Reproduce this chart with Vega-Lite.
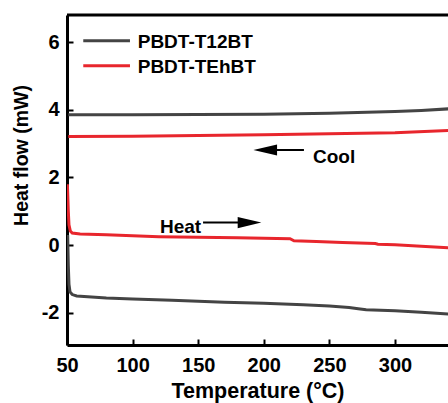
{
  "$schema": "https://vega.github.io/schema/vega-lite/v6.json",
  "autosize": "none",
  "width": 381,
  "height": 330,
  "padding": {"left": 67, "top": 15, "right": 0, "bottom": 58},
  "config": {
    "font": "Liberation Sans",
    "view": {"stroke": null},
    "axis": {
      "grid": false,
      "domainColor": "black",
      "domainWidth": 3,
      "tickColor": "black",
      "tickWidth": 2,
      "labelColor": "black",
      "labelFont": "Liberation Sans",
      "labelFontWeight": "bold",
      "labelFontSize": 20,
      "titleFont": "Liberation Sans",
      "titleFontWeight": "bold",
      "titleFontSize": 21,
      "titleColor": "black"
    }
  },
  "datasets": {
    "curves": [
      {"s": "PBDT-T12BT", "p": "cool", "T": 51, "H": 3.85},
      {"s": "PBDT-T12BT", "p": "cool", "T": 100, "H": 3.85},
      {"s": "PBDT-T12BT", "p": "cool", "T": 150, "H": 3.86},
      {"s": "PBDT-T12BT", "p": "cool", "T": 200, "H": 3.87},
      {"s": "PBDT-T12BT", "p": "cool", "T": 250, "H": 3.9},
      {"s": "PBDT-T12BT", "p": "cool", "T": 300, "H": 3.95},
      {"s": "PBDT-T12BT", "p": "cool", "T": 320, "H": 3.98},
      {"s": "PBDT-T12BT", "p": "cool", "T": 342, "H": 4.03},
      {"s": "PBDT-TEhBT", "p": "cool", "T": 51, "H": 3.21},
      {"s": "PBDT-TEhBT", "p": "cool", "T": 100, "H": 3.22},
      {"s": "PBDT-TEhBT", "p": "cool", "T": 150, "H": 3.24},
      {"s": "PBDT-TEhBT", "p": "cool", "T": 200, "H": 3.26},
      {"s": "PBDT-TEhBT", "p": "cool", "T": 250, "H": 3.29},
      {"s": "PBDT-TEhBT", "p": "cool", "T": 300, "H": 3.32},
      {"s": "PBDT-TEhBT", "p": "cool", "T": 342, "H": 3.39},
      {"s": "PBDT-T12BT", "p": "heat", "T": 50.5, "H": 0.3},
      {"s": "PBDT-T12BT", "p": "heat", "T": 51, "H": -0.6},
      {"s": "PBDT-T12BT", "p": "heat", "T": 51.5, "H": -1.15},
      {"s": "PBDT-T12BT", "p": "heat", "T": 52.3, "H": -1.38},
      {"s": "PBDT-T12BT", "p": "heat", "T": 54, "H": -1.46},
      {"s": "PBDT-T12BT", "p": "heat", "T": 57.4, "H": -1.5},
      {"s": "PBDT-T12BT", "p": "heat", "T": 80, "H": -1.56},
      {"s": "PBDT-T12BT", "p": "heat", "T": 100, "H": -1.59},
      {"s": "PBDT-T12BT", "p": "heat", "T": 130, "H": -1.63},
      {"s": "PBDT-T12BT", "p": "heat", "T": 170, "H": -1.69},
      {"s": "PBDT-T12BT", "p": "heat", "T": 200, "H": -1.72},
      {"s": "PBDT-T12BT", "p": "heat", "T": 230, "H": -1.76},
      {"s": "PBDT-T12BT", "p": "heat", "T": 250, "H": -1.8},
      {"s": "PBDT-T12BT", "p": "heat", "T": 265, "H": -1.84},
      {"s": "PBDT-T12BT", "p": "heat", "T": 272, "H": -1.88},
      {"s": "PBDT-T12BT", "p": "heat", "T": 278, "H": -1.91},
      {"s": "PBDT-T12BT", "p": "heat", "T": 300, "H": -1.94},
      {"s": "PBDT-T12BT", "p": "heat", "T": 320, "H": -1.98},
      {"s": "PBDT-T12BT", "p": "heat", "T": 342, "H": -2.04},
      {"s": "PBDT-TEhBT", "p": "heat", "T": 50.3, "H": 1.8},
      {"s": "PBDT-TEhBT", "p": "heat", "T": 51, "H": 1.0},
      {"s": "PBDT-TEhBT", "p": "heat", "T": 51.5, "H": 0.6},
      {"s": "PBDT-TEhBT", "p": "heat", "T": 52.5, "H": 0.42},
      {"s": "PBDT-TEhBT", "p": "heat", "T": 54, "H": 0.36},
      {"s": "PBDT-TEhBT", "p": "heat", "T": 60, "H": 0.33},
      {"s": "PBDT-TEhBT", "p": "heat", "T": 80, "H": 0.31},
      {"s": "PBDT-TEhBT", "p": "heat", "T": 120, "H": 0.25},
      {"s": "PBDT-TEhBT", "p": "heat", "T": 150, "H": 0.23},
      {"s": "PBDT-TEhBT", "p": "heat", "T": 180, "H": 0.22},
      {"s": "PBDT-TEhBT", "p": "heat", "T": 210, "H": 0.2},
      {"s": "PBDT-TEhBT", "p": "heat", "T": 220, "H": 0.19},
      {"s": "PBDT-TEhBT", "p": "heat", "T": 223, "H": 0.13},
      {"s": "PBDT-TEhBT", "p": "heat", "T": 240, "H": 0.11},
      {"s": "PBDT-TEhBT", "p": "heat", "T": 260, "H": 0.08},
      {"s": "PBDT-TEhBT", "p": "heat", "T": 285, "H": 0.05},
      {"s": "PBDT-TEhBT", "p": "heat", "T": 287, "H": 0.03},
      {"s": "PBDT-TEhBT", "p": "heat", "T": 300, "H": 0.01},
      {"s": "PBDT-TEhBT", "p": "heat", "T": 320, "H": -0.03},
      {"s": "PBDT-TEhBT", "p": "heat", "T": 342, "H": -0.08}
    ]
  },
  "layer": [
    {
      "data": {"name": "curves"},
      "mark": {"type": "line", "strokeWidth": 3, "clip": true},
      "encoding": {
        "x": {
          "field": "T", "type": "quantitative",
          "scale": {"domain": [50, 340.4], "nice": false, "zero": false},
          "axis": {
            "title": "Temperature (°C)",
            "titleFontSize": 21.5,
            "values": [50, 75, 100, 125, 150, 175, 200, 225, 250, 275, 300, 325],
            "labelExpr": "datum.value % 50 == 0 ? datum.label : ''",
            "tickSize": {"condition": {"test": "datum.value % 50 == 0", "value": -6}, "value": -3},
            "labelPadding": 16,
            "titlePadding": 5,
            "labelFlush": false
          }
        },
        "y": {
          "field": "H", "type": "quantitative",
          "scale": {"domain": [-2.95, 6.8], "nice": false, "zero": false},
          "axis": {
            "title": "Heat flow (mW)",
            "titleFontSize": 19.5,
            "titleY": 140,
            "values": [-2, 0, 2, 4, 6],
            "labelExpr": "'' + datum.value",
            "tickSize": -6,
            "labelPadding": 14,
            "titlePadding": 10
          }
        },
        "color": {
          "field": "s", "type": "nominal",
          "scale": {"domain": ["PBDT-T12BT", "PBDT-TEhBT"], "range": ["#444444", "#e8262d"]},
          "legend": null
        },
        "detail": {"field": "p"}
      }
    },
    {
      "data": {"values": [{"T": 50, "T2": 340.4, "H": 6.8}]},
      "mark": {"type": "rule", "strokeWidth": 3, "color": "black"},
      "encoding": {
        "x": {"field": "T", "type": "quantitative"},
        "x2": {"field": "T2"},
        "y": {"field": "H", "type": "quantitative"}
      }
    },
    {
      "data": {"values": [
        {"s": "PBDT-T12BT", "T": 62.4, "T2": 98, "H": 6.04},
        {"s": "PBDT-TEhBT", "T": 62.4, "T2": 98, "H": 5.3}
      ]},
      "mark": {"type": "rule", "strokeWidth": 3},
      "encoding": {
        "x": {"field": "T", "type": "quantitative"},
        "x2": {"field": "T2"},
        "y": {"field": "H", "type": "quantitative"},
        "color": {"field": "s", "type": "nominal", "legend": null}
      }
    },
    {
      "data": {"values": [
        {"s": "PBDT-T12BT", "T": 103.9, "H": 6.04},
        {"s": "PBDT-TEhBT", "T": 103.9, "H": 5.3}
      ]},
      "mark": {"type": "text", "align": "left", "baseline": "middle", "fontSize": 19, "fontWeight": "bold", "color": "black", "dy": 1},
      "encoding": {
        "x": {"field": "T", "type": "quantitative"},
        "y": {"field": "H", "type": "quantitative"},
        "text": {"field": "s"}
      }
    },
    {
      "data": {"values": [
        {"T": 200, "T2": 230.6, "H": 2.81},
        {"T": 153.7, "T2": 190, "H": 0.666}
      ]},
      "mark": {"type": "rule", "strokeWidth": 2, "color": "black"},
      "encoding": {
        "x": {"field": "T", "type": "quantitative"},
        "x2": {"field": "T2"},
        "y": {"field": "H", "type": "quantitative"}
      }
    },
    {
      "data": {"values": [
        {"T": 201.1, "H": 2.81, "d": "left"},
        {"T": 189.1, "H": 0.666, "d": "right"}
      ]},
      "mark": {"type": "point", "filled": true, "size": 560, "color": "black", "opacity": 1},
      "encoding": {
        "x": {"field": "T", "type": "quantitative"},
        "y": {"field": "H", "type": "quantitative"},
        "shape": {
          "field": "d", "type": "nominal",
          "scale": {"domain": ["left", "right"], "range": ["M -1 0 L 1 -0.47 L 1 0.47 Z", "M 1 0 L -1 -0.47 L -1 0.47 Z"]},
          "legend": null
        }
      }
    },
    {
      "data": {"values": [
        {"T": 237.5, "H": 2.645, "label": "Cool"},
        {"T": 120.9, "H": 0.577, "label": "Heat"}
      ]},
      "mark": {"type": "text", "align": "left", "baseline": "middle", "fontSize": 19, "fontWeight": "bold", "color": "black", "dy": 1},
      "encoding": {
        "x": {"field": "T", "type": "quantitative"},
        "y": {"field": "H", "type": "quantitative"},
        "text": {"field": "label"}
      }
    }
  ]
}
